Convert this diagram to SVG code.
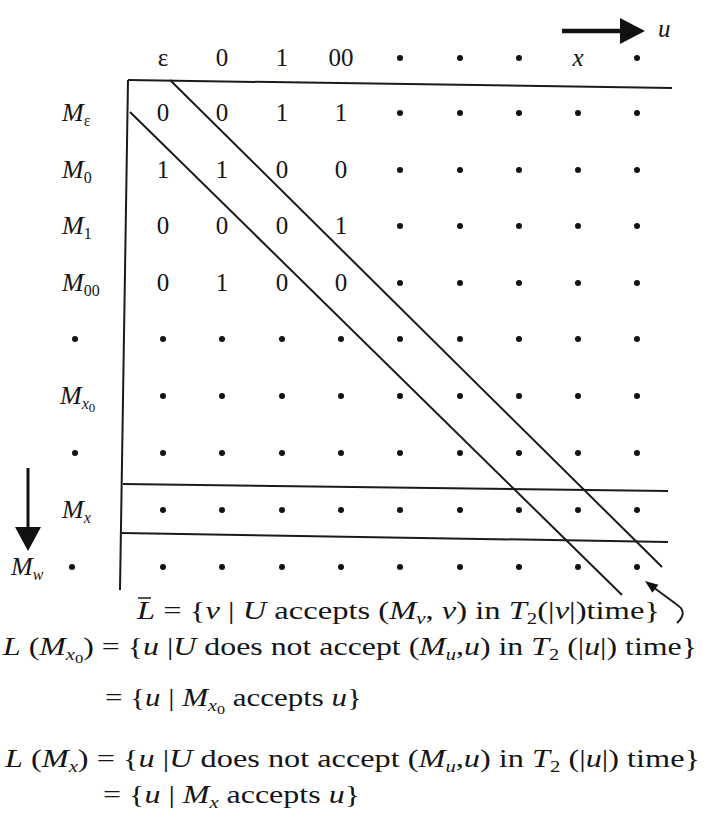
<svg xmlns="http://www.w3.org/2000/svg" width="706" height="833" viewBox="0 0 706 833" font-family="'Liberation Serif', 'Times New Roman', serif">
<style>
text{font-family:'Liberation Serif','Times New Roman',serif;fill:#151515}
.d{font-size:25px;text-anchor:middle}
.i{font-style:italic}
.lbl{font-size:26px}
.f{font-size:25px}
.s{font-size:16px}
.ss{font-size:13px}
.ln{stroke:#1a1a1a;stroke-width:2;fill:none}
</style>
<defs>
<circle id="dot" r="3" fill="#111"/>
</defs>
<rect width="706" height="833" fill="#fff"/>

<g id="header">
<text class="d" x="163" y="66">ε</text>
<text class="d" x="222" y="66">0</text>
<text class="d" x="282" y="66">1</text>
<text class="d" x="341" y="66">00</text>
<use href="#dot" x="400" y="58"/>
<use href="#dot" x="460" y="58"/>
<use href="#dot" x="519" y="58"/>
<text class="d i" x="578" y="66">x</text>
<use href="#dot" x="637" y="58"/>
<line x1="562" y1="31" x2="624" y2="31" stroke="#111" stroke-width="4.5"/>
<polygon points="620,18 645,31 620,44" fill="#111"/>
<text class="f i" x="658" y="37">u</text>
</g>

<g id="row-labels">
<text class="lbl" x="62" y="121"><tspan class="i">M</tspan><tspan class="s" dy="5">ε</tspan></text>
<text class="lbl" x="62" y="178"><tspan class="i">M</tspan><tspan class="s" dy="5">0</tspan></text>
<text class="lbl" x="62" y="234"><tspan class="i">M</tspan><tspan class="s" dy="5">1</tspan></text>
<text class="lbl" x="62" y="291"><tspan class="i">M</tspan><tspan class="s" dy="5">00</tspan></text>
<use href="#dot" x="75" y="339"/>
<text class="lbl" x="60" y="404"><tspan class="i">M</tspan><tspan class="s i" dy="5">x</tspan><tspan class="ss" dy="3">0</tspan></text>
<use href="#dot" x="75" y="453"/>
<text class="lbl" x="62" y="518"><tspan class="i">M</tspan><tspan class="s i" dy="5">x</tspan></text>
<text class="lbl" x="11" y="575"><tspan class="i">M</tspan><tspan class="s i" dy="5">w</tspan></text>
<use href="#dot" x="72" y="567"/>
<line x1="28" y1="468" x2="28" y2="530" stroke="#111" stroke-width="3"/>
<polygon points="15,527 41,527 28,551" fill="#111"/>
</g>

<g id="cells">
<text class="d" x="163" y="121">0</text><text class="d" x="222" y="121">0</text><text class="d" x="282" y="121">1</text><text class="d" x="341" y="121">1</text>
<text class="d" x="163" y="178">1</text><text class="d" x="222" y="178">1</text><text class="d" x="282" y="178">0</text><text class="d" x="341" y="178">0</text>
<text class="d" x="163" y="234">0</text><text class="d" x="222" y="234">0</text><text class="d" x="282" y="234">0</text><text class="d" x="341" y="234">1</text>
<text class="d" x="163" y="291">0</text><text class="d" x="222" y="291">1</text><text class="d" x="282" y="291">0</text><text class="d" x="341" y="291">0</text>
<g id="dots-top">
<use href="#dot" x="400" y="113"/><use href="#dot" x="460" y="113"/><use href="#dot" x="519" y="113"/><use href="#dot" x="578" y="113"/><use href="#dot" x="637" y="113"/>
<use href="#dot" x="400" y="170"/><use href="#dot" x="460" y="170"/><use href="#dot" x="519" y="170"/><use href="#dot" x="578" y="170"/><use href="#dot" x="637" y="170"/>
<use href="#dot" x="400" y="226"/><use href="#dot" x="460" y="226"/><use href="#dot" x="519" y="226"/><use href="#dot" x="578" y="226"/><use href="#dot" x="637" y="226"/>
<use href="#dot" x="400" y="283"/><use href="#dot" x="460" y="283"/><use href="#dot" x="519" y="283"/><use href="#dot" x="578" y="283"/><use href="#dot" x="637" y="283"/>
</g>
<g id="dots-bottom">
<use href="#dot" x="163" y="339"/><use href="#dot" x="222" y="339"/><use href="#dot" x="282" y="339"/><use href="#dot" x="341" y="339"/><use href="#dot" x="400" y="339"/><use href="#dot" x="460" y="339"/><use href="#dot" x="519" y="339"/><use href="#dot" x="578" y="339"/><use href="#dot" x="637" y="339"/>
<use href="#dot" x="163" y="396"/><use href="#dot" x="222" y="396"/><use href="#dot" x="282" y="396"/><use href="#dot" x="341" y="396"/><use href="#dot" x="400" y="396"/><use href="#dot" x="460" y="396"/><use href="#dot" x="519" y="396"/><use href="#dot" x="578" y="396"/><use href="#dot" x="637" y="396"/>
<use href="#dot" x="163" y="453"/><use href="#dot" x="222" y="453"/><use href="#dot" x="282" y="453"/><use href="#dot" x="341" y="453"/><use href="#dot" x="400" y="453"/><use href="#dot" x="460" y="453"/><use href="#dot" x="519" y="453"/><use href="#dot" x="578" y="453"/><use href="#dot" x="637" y="453"/>
<use href="#dot" x="163" y="510"/><use href="#dot" x="222" y="510"/><use href="#dot" x="282" y="510"/><use href="#dot" x="341" y="510"/><use href="#dot" x="400" y="510"/><use href="#dot" x="460" y="510"/><use href="#dot" x="519" y="510"/><use href="#dot" x="578" y="510"/><use href="#dot" x="637" y="510"/>
<use href="#dot" x="163" y="567"/><use href="#dot" x="222" y="567"/><use href="#dot" x="282" y="567"/><use href="#dot" x="341" y="567"/><use href="#dot" x="400" y="567"/><use href="#dot" x="460" y="567"/><use href="#dot" x="519" y="567"/><use href="#dot" x="578" y="567"/><use href="#dot" x="637" y="567"/>
</g>
</g>

<g id="connectors">
<line class="ln" x1="128" y1="80" x2="672" y2="88"/>
<line class="ln" x1="128" y1="80" x2="120" y2="590"/>
<line class="ln" x1="170" y1="80" x2="662" y2="567"/>
<line class="ln" x1="130" y1="112" x2="622" y2="595"/>
<line class="ln" x1="123" y1="484" x2="668" y2="491"/>
<line class="ln" x1="122" y1="533" x2="668" y2="542"/>
<path class="ln" d="M677 623 Q689 612 676 604 L653 587"/>
<polygon points="645,581 658.4,584.8 652.4,592.8" fill="#111"/>
</g>

<g id="formulas">
<line x1="138" y1="598" x2="151" y2="598" stroke="#1a1a1a" stroke-width="1.5"/>
<text class="f" x="137" y="619" textLength="523" lengthAdjust="spacingAndGlyphs"><tspan class="i">L</tspan> = {<tspan class="i">v</tspan> | <tspan class="i">U</tspan> accepts (<tspan class="i">M</tspan><tspan class="s i" dy="5">v</tspan><tspan dy="-5">, </tspan><tspan class="i">v</tspan>) in <tspan class="i">T</tspan><tspan class="s" dy="5">2</tspan><tspan dy="-5">(|</tspan><tspan class="i">v</tspan>|)time}</text>
<text class="f" x="3" y="655" textLength="694" lengthAdjust="spacingAndGlyphs"><tspan class="i">L</tspan> (<tspan class="i">M</tspan><tspan class="s i" dy="5">x</tspan><tspan class="ss" dy="3">0</tspan><tspan dy="-8">) = {</tspan><tspan class="i">u</tspan> |<tspan class="i">U</tspan> does not accept (<tspan class="i">M</tspan><tspan class="s i" dy="5">u</tspan><tspan dy="-5">,</tspan><tspan class="i">u</tspan>) in <tspan class="i">T</tspan><tspan class="s" dy="5">2</tspan><tspan dy="-5"> (|</tspan><tspan class="i">u</tspan>|) time}</text>
<text class="f" x="105" y="706" textLength="257" lengthAdjust="spacingAndGlyphs">= {<tspan class="i">u</tspan> | <tspan class="i">M</tspan><tspan class="s i" dy="5">x</tspan><tspan class="ss" dy="3">0</tspan><tspan dy="-8"> accepts </tspan><tspan class="i">u</tspan>}</text>
<text class="f" x="5" y="767" textLength="695" lengthAdjust="spacingAndGlyphs"><tspan class="i">L</tspan> (<tspan class="i">M</tspan><tspan class="s i" dy="5">x</tspan><tspan dy="-5">) = {</tspan><tspan class="i">u</tspan> |<tspan class="i">U</tspan> does not accept (<tspan class="i">M</tspan><tspan class="s i" dy="5">u</tspan><tspan dy="-5">,</tspan><tspan class="i">u</tspan>) in <tspan class="i">T</tspan><tspan class="s" dy="5">2</tspan><tspan dy="-5"> (|</tspan><tspan class="i">u</tspan>|) time}</text>
<text class="f" x="103" y="803" textLength="257" lengthAdjust="spacingAndGlyphs">= {<tspan class="i">u</tspan> | <tspan class="i">M</tspan><tspan class="s i" dy="5">x</tspan><tspan dy="-5"> accepts </tspan><tspan class="i">u</tspan>}</text>
</g>
</svg>
